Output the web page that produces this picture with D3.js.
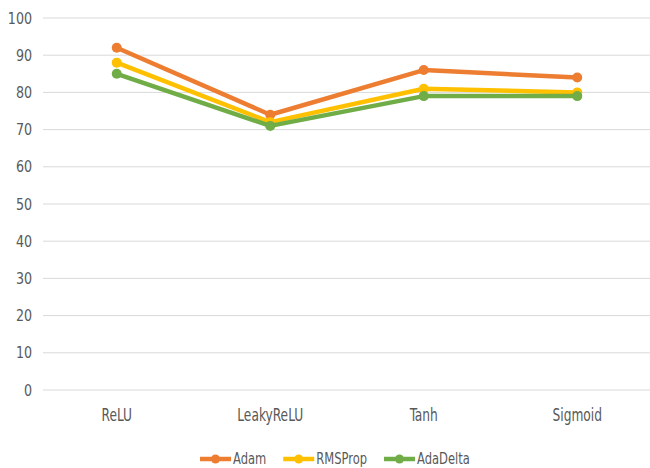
<!DOCTYPE html>
<html>
<head>
<meta charset="utf-8">
<script src="https://cdn.jsdelivr.net/npm/d3@7"></script>
<style>
  html, body { margin: 0; padding: 0; background: #fff; }
  svg { display: block; font-family: "DejaVu Sans Condensed", sans-serif; }
</style>
</head>
<body>
<svg id="chart" width="650" height="468"></svg>
<script>
// Activation functions on the x axis
const categories = ["ReLU", "LeakyReLU", "Tanh", "Sigmoid"];
// Accuracy (%) per optimizer
const adam     = [92, 74, 86, 84];
const rmsprop  = [88, 72, 81, 80];
const adadelta = [85, 71, 79, 79];
const seriesNames = ["Adam", "RMSProp", "AdaDelta"];
const seriesColors = ["#ED7D31", "#FFC000", "#70AD47"];
const yTicks = [0, 10, 20, 30, 40, 50, 60, 70, 80, 90, 100];

const series = [adam, rmsprop, adadelta].map((values, i) => ({
  name: seriesNames[i], color: seriesColors[i], values
}));

const svg = d3.select("#chart");
const FONT = "\"DejaVu Sans Condensed\", sans-serif";

// Narrow the condensed face a little further so labels read like a narrow UI font
function narrow(sel, k) {
  sel.each(function () {
    const w = this.getComputedTextLength();
    d3.select(this).attr("textLength", w * k).attr("lengthAdjust", "spacingAndGlyphs");
  });
}

const x = d3.scaleBand().domain(categories).range([40, 654]);
const y = d3.scaleLinear().domain([0, 100]).range([390, 18]);

// Horizontal gridlines
svg.append("g").selectAll("line").data(yTicks).join("line")
  .attr("x1", 43).attr("x2", 650)
  .attr("y1", d => y(d)).attr("y2", d => y(d))
  .attr("stroke", "#d9d9d9").attr("stroke-width", 1);

// Y axis labels
const yAxis = d3.axisLeft(y).tickValues(yTicks).tickSize(0).tickPadding(0);
const gy = svg.append("g").attr("transform", "translate(32,0)").call(yAxis);
gy.select(".domain").remove();
gy.selectAll("text").attr("fill", "#595959").attr("font-size", 16).attr("font-family", FONT);
narrow(gy.selectAll("text"), 0.88);

// X axis labels
const xAxis = d3.axisBottom(x).tickSize(0).tickPadding(0);
const gx = svg.append("g").attr("transform", "translate(0,409)").call(xAxis);
gx.select(".domain").remove();
gx.selectAll("text").attr("fill", "#595959").attr("font-size", 17).attr("font-family", FONT);
narrow(gx.selectAll("text"), 0.8);

const cx = c => x(c) + x.bandwidth() / 2;
const line = d3.line().x((d, i) => cx(categories[i])).y(d => y(d));

const g = svg.append("g");
series.forEach(s => {
  g.append("path").datum(s.values)
    .attr("d", line).attr("fill", "none")
    .attr("stroke", s.color).attr("stroke-width", 4.5)
    .attr("stroke-linejoin", "round").attr("stroke-linecap", "round");
  g.selectAll(null).data(s.values).join("circle")
    .attr("cx", (d, i) => cx(categories[i])).attr("cy", d => y(d))
    .attr("r", 5).attr("fill", s.color);
});

// Legend: swatch line + marker, then label; items laid out left to right
const legend = svg.append("g");
const swatchW = 31, labelGap = 2, itemGap = 17;
let lx = 200;
series.forEach(s => {
  const lg = legend.append("g").attr("transform", `translate(${lx},459)`);
  lg.append("line").attr("x1", 0).attr("x2", swatchW).attr("y1", 0).attr("y2", 0)
    .attr("stroke", s.color).attr("stroke-width", 4.5);
  lg.append("circle").attr("cx", swatchW / 2).attr("cy", 0).attr("r", 4.5).attr("fill", s.color);
  const t = lg.append("text").attr("x", swatchW + labelGap).attr("y", 0).attr("dy", "0.34em")
    .attr("fill", "#595959").attr("font-size", 16).attr("font-family", FONT).text(s.name);
  narrow(t, 0.8);
  lx += swatchW + labelGap + t.node().getComputedTextLength() + itemGap;
});
</script>
</body>
</html>
